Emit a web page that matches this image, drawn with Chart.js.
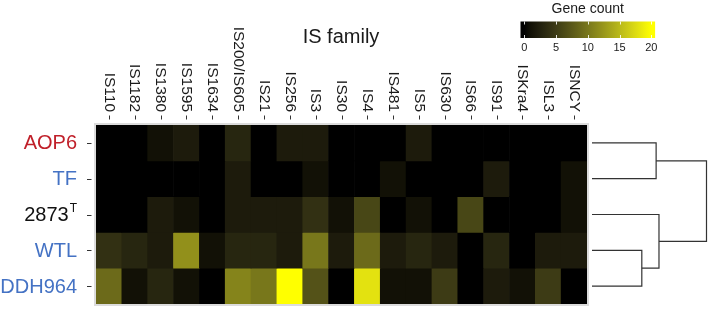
<!DOCTYPE html>
<html>
<head>
<meta charset="utf-8">
<script src="https://cdn.jsdelivr.net/npm/chart.js@4.4.1/dist/chart.umd.min.js"></script>
<style>
  body { margin: 0; background: #fff; }
  #wrap { width: 709px; height: 309px; }
</style>
</head>
<body>
<div id="wrap"><canvas id="heatmap" width="709" height="309"></canvas></div>
<script>
// IS families (columns) and strains (rows)
const families = ['IS110', 'IS1182', 'IS1380', 'IS1595', 'IS1634', 'IS200/IS605', 'IS21', 'IS256', 'IS3',
    'IS30', 'IS4', 'IS481', 'IS5', 'IS630', 'IS66', 'IS91', 'ISKra4', 'ISL3', 'ISNCY'];
const strains = ['AOP6', 'TF', '2873', 'WTL', 'DDH964'];
const strainSup = ['', '', 'T', '', ''];
const strainColors = ['#c0202a', '#4472c4', '#111111', '#4472c4', '#4472c4'];

// gene counts, one per IS family
const countsAOP6   = [0, 0, 1, 2, 0, 3, 0, 2, 2, 0, 0, 0, 2, 0, 0, 0, 0, 0, 0];
const countsTF     = [0, 0, 0, 0, 0, 2, 0, 0, 1, 0, 0, 1, 0, 0, 0, 2, 0, 0, 1];
const counts2873   = [0, 0, 2, 1, 0, 2, 2, 2, 4, 1, 6, 0, 1, 0, 6, 0, 0, 0, 1];
const countsWTL    = [4, 3, 2, 12, 1, 3, 3, 2, 10, 2, 9, 2, 3, 2, 0, 3, 0, 2, 2];
const countsDDH964 = [9, 1, 3, 1, 0, 11, 10, 20, 7, 0, 18, 1, 1, 5, 0, 2, 1, 5, 0];

const legendTicks = [0, 5, 10, 15, 20];

// row clustering: leaves are 0..4, each join makes a new node (5, 6, ...)
// height is relative to the root join
const treeJoins = [
    { a: 0, b: 1, height: 0.56 },
    { a: 3, b: 4, height: 0.435 },
    { a: 2, b: 6, height: 0.585 },
    { a: 5, b: 7, height: 1.0 }
];

const rows = [countsAOP6, countsTF, counts2873, countsWTL, countsDDH964];
const maxCount = Math.max(...rows.flat());

// black -> yellow gradient, interpolated in Lab like ggplot
const toLin = c => { c /= 255; return c <= 0.04045 ? c / 12.92 : Math.pow((c + 0.055) / 1.055, 2.4); };
const toSrgb = c => {
    c = c <= 0.0031308 ? 12.92 * c : 1.055 * Math.pow(c, 1 / 2.4) - 0.055;
    return Math.round(Math.max(0, Math.min(1, c)) * 255);
};
const rgbToLab = (rgb) => {
    const [r, g, b] = rgb.map(toLin);
    const x = (0.4124 * r + 0.3576 * g + 0.1805 * b) / 0.95047;
    const y = 0.2126 * r + 0.7152 * g + 0.0722 * b;
    const z = (0.0193 * r + 0.1192 * g + 0.9505 * b) / 1.08883;
    const f = t => t > 0.008856 ? Math.cbrt(t) : 7.787 * t + 16 / 116;
    return [116 * f(y) - 16, 500 * (f(x) - f(y)), 200 * (f(y) - f(z))];
};
const labToRgb = ([L, a, bb]) => {
    const fy = (L + 16) / 116, fx = fy + a / 500, fz = fy - bb / 200;
    const inv = t => t > 0.206893 ? t * t * t : (t - 16 / 116) / 7.787;
    const x = inv(fx) * 0.95047, y = inv(fy), z = inv(fz) * 1.08883;
    return [
        toSrgb(3.2406 * x - 1.5372 * y - 0.4986 * z),
        toSrgb(-0.9689 * x + 1.8758 * y + 0.0415 * z),
        toSrgb(0.0557 * x - 0.2040 * y + 1.0570 * z)
    ];
};
const lowLab = rgbToLab([0, 0, 0]);
const highLab = rgbToLab([255, 255, 0]);
const countColor = (v) => {
    const t = Math.max(0, Math.min(1, v / maxCount));
    const lab = lowLab.map((l, i) => l + (highLab[i] - l) * t);
    const [r, g, b] = labToRgb(lab);
    return `rgb(${r},${g},${b})`;
};

const FONT = '"Liberation Sans", Arial, sans-serif';

// labels, colour bar and dendrogram drawn around the heatmap
const decorations = {
    id: 'decorations',
    beforeDatasetsDraw(chart) {
        const { ctx, chartArea: a } = chart;
        ctx.save();
        ctx.strokeStyle = '#dcdcdc';
        ctx.lineWidth = 2;
        ctx.strokeRect(a.left - 1, a.top - 1, a.right - a.left + 2, a.bottom - a.top + 2);
        ctx.restore();
    },
    afterDraw(chart) {
        const { ctx, chartArea: a } = chart;
        const xs = chart.scales.x, ys = chart.scales.y;
        ctx.save();

        // column labels, rotated to read downwards
        ctx.fillStyle = '#1a1a1a';
        ctx.strokeStyle = '#333';
        ctx.lineWidth = 1;
        ctx.font = '15.5px ' + FONT;
        families.forEach((name, i) => {
            const x = xs.getPixelForValue(i);
            ctx.save();
            ctx.translate(x, a.top - 13);
            ctx.rotate(Math.PI / 2);
            ctx.textAlign = 'right';
            ctx.textBaseline = 'middle';
            ctx.fillText(name, 0, 0);
            ctx.restore();
            ctx.beginPath();
            ctx.moveTo(Math.round(x) + 0.5, a.top - 9.5);
            ctx.lineTo(Math.round(x) + 0.5, a.top - 5.5);
            ctx.stroke();
        });

        // row labels
        ctx.textBaseline = 'middle';
        strains.forEach((name, r) => {
            const y = ys.getPixelForValue(r);
            let right = a.left - 19;
            ctx.fillStyle = strainColors[r];
            if (strainSup[r]) {
                ctx.font = '12px ' + FONT;
                ctx.textAlign = 'right';
                ctx.fillText(strainSup[r], right, y - 6);
                right -= ctx.measureText(strainSup[r]).width + 1;
            }
            ctx.font = '20px ' + FONT;
            ctx.textAlign = 'right';
            ctx.fillText(name, right, y + 1);
            ctx.beginPath();
            ctx.moveTo(a.left - 9, Math.round(y) + 0.5);
            ctx.lineTo(a.left - 4.5, Math.round(y) + 0.5);
            ctx.stroke();
        });

        // axis title
        ctx.fillStyle = '#1a1a1a';
        ctx.font = '20px ' + FONT;
        ctx.textAlign = 'center';
        ctx.fillText('IS family', 341, 37);

        // colour bar
        const barX0 = 524.3, perUnit = 6.35, barTop = 21.5, barBottom = 38;
        const bx = v => barX0 + v * perUnit;
        const grad = ctx.createLinearGradient(bx(0), 0, bx(maxCount), 0);
        for (let k = 0; k <= 20; k++) grad.addColorStop(k / 20, countColor(maxCount * k / 20));
        ctx.fillStyle = grad;
        ctx.fillRect(bx(-0.6), barTop, bx(20.6) - bx(-0.6), barBottom - barTop);
        ctx.strokeStyle = 'rgba(255,255,255,0.85)';
        ctx.lineWidth = 1;
        ctx.fillStyle = '#1a1a1a';
        ctx.font = '11px ' + FONT;
        legendTicks.forEach(v => {
            const x = Math.round(bx(v)) + 0.5;
            ctx.beginPath();
            ctx.moveTo(x, barTop); ctx.lineTo(x, barTop + 3);
            ctx.moveTo(x, barBottom - 3); ctx.lineTo(x, barBottom);
            ctx.stroke();
            ctx.fillText(String(v), bx(v), 48);
        });
        ctx.font = '14px ' + FONT;
        ctx.fillText('Gene count', (bx(-0.6) + bx(20.6)) / 2, 9);

        // dendrogram
        const leafX = a.right + 5, rootX = 706.5;
        const nodeX = [], nodeY = [];
        strains.forEach((s, r) => { nodeX.push(leafX); nodeY.push(ys.getPixelForValue(r)); });
        ctx.strokeStyle = '#333';
        ctx.lineWidth = 1.2;
        treeJoins.forEach(j => {
            const x = leafX + j.height * (rootX - leafX);
            ctx.beginPath();
            ctx.moveTo(nodeX[j.a], nodeY[j.a]); ctx.lineTo(x, nodeY[j.a]);
            ctx.lineTo(x, nodeY[j.b]); ctx.lineTo(nodeX[j.b], nodeY[j.b]);
            ctx.stroke();
            nodeX.push(x);
            nodeY.push((nodeY[j.a] + nodeY[j.b]) / 2);
        });

        ctx.restore();
    }
};

const ctx = document.getElementById('heatmap').getContext('2d');
new Chart(ctx, {
    type: 'bar',
    data: {
        labels: families,
        datasets: rows.map((vals, r) => ({
            label: strains[r],
            data: vals.map(() => [r - 0.5, r + 0.5]),
            backgroundColor: vals.map(countColor),
            borderWidth: 0,
            barPercentage: 1,
            categoryPercentage: 1,
            grouped: false
        }))
    },
    options: {
        responsive: false,
        animation: false,
        devicePixelRatio: 1,
        layout: { padding: { left: 96, right: 122, top: 125, bottom: 5 } },
        plugins: { legend: { display: false }, tooltip: { enabled: false } },
        scales: {
            x: { type: 'category', offset: true, display: false },
            y: { type: 'linear', min: -0.5, max: 4.5, reverse: true, display: false }
        }
    },
    plugins: [decorations]
});
</script>
</body>
</html>
